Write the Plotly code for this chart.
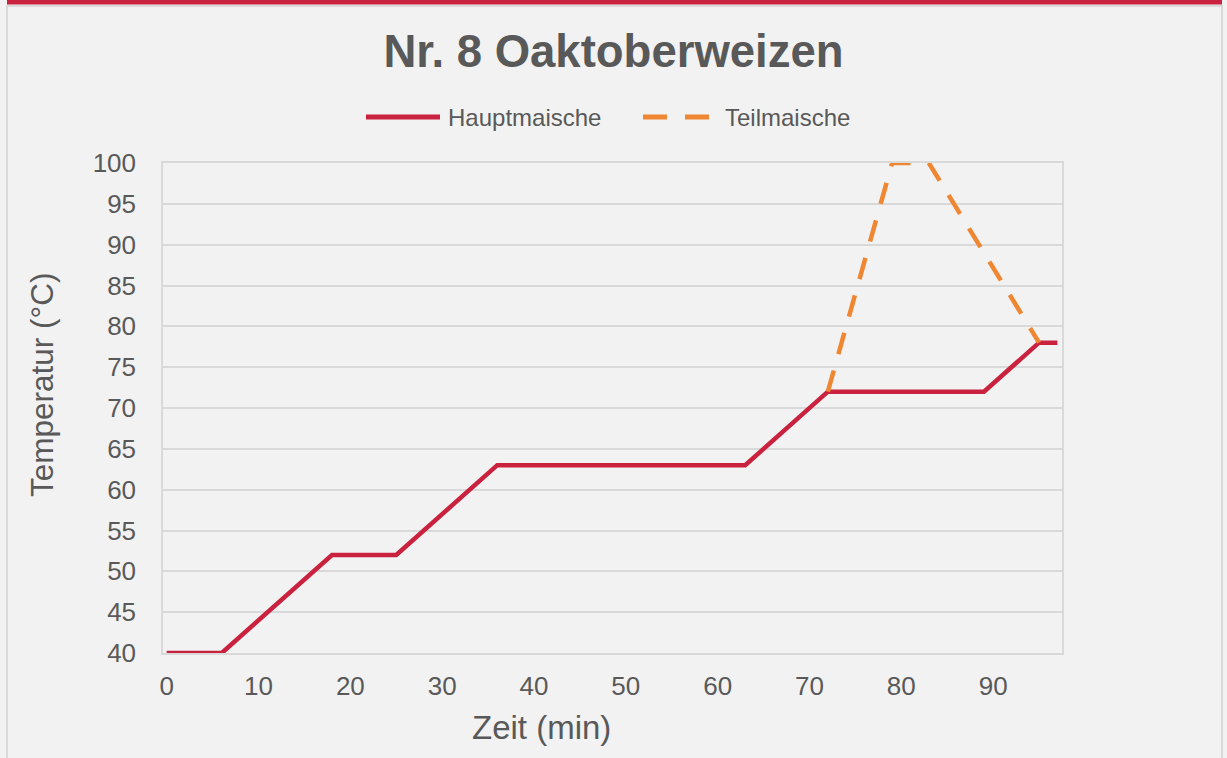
import plotly.graph_objects as go

# ---- data ----
haupt_x = [0, 6, 18, 25, 36, 63, 72, 89, 95, 97]
haupt_y = [40, 40, 52, 52, 63, 63, 72, 72, 78, 78]
teil_x = [72, 79, 83, 95]
teil_y = [72, 100, 100, 78]
x_ticks = [0, 10, 20, 30, 40, 50, 60, 70, 80, 90]
y_ticks = [40, 45, 50, 55, 60, 65, 70, 75, 80, 85, 90, 95, 100]
title = "Nr. 8 Oaktoberweizen"
names = ["Hauptmaische", "Teilmaische"]
x_title = "Zeit (min)"
y_title = "Temperatur (°C)"

RED = "#c9213e"
ORANGE = "#ef8632"
GRAY = "#595959"
GRID = "#d9d9d9"
BG = "#f2f2f2"
FONT = "Liberation Sans, Arial, sans-serif"

W, H = 1227, 758
L, R, T, B = 163, 1062, 163, 653  # plot area pixel bounds


def px(xp):
    return (xp - L) / (R - L)


def py(yp):
    return (B - yp) / (B - T)


fig = go.Figure()
fig.add_trace(go.Scatter(x=haupt_x, y=haupt_y, mode="lines", name=names[0],
                         line=dict(color=RED, width=4.5), showlegend=False))
fig.add_trace(go.Scatter(x=teil_x, y=teil_y, mode="lines", name=names[1],
                         line=dict(color=ORANGE, width=4.5, dash="22px,17px"),
                         showlegend=False))

shapes = [
    # outer frame
    dict(type="rect", xref="paper", yref="paper", x0=px(7), x1=px(1222), y0=py(6), y1=py(762),
         line=dict(color=GRID, width=2), fillcolor="rgba(0,0,0,0)", layer="below"),
    # top red bar
    dict(type="rect", xref="paper", yref="paper", x0=px(7), x1=px(1222), y0=py(-2), y1=py(4.5),
         line=dict(width=0), fillcolor=RED),
    # legend samples
    dict(type="line", xref="paper", yref="paper", x0=px(366), x1=px(440), y0=py(117), y1=py(117),
         line=dict(color=RED, width=5)),
    dict(type="line", xref="paper", yref="paper", x0=px(643), x1=px(709), y0=py(117), y1=py(117),
         line=dict(color=ORANGE, width=5, dash="24px,18px")),
]

annotations = [
    dict(text=names[0], xref="paper", yref="paper", x=px(446), y=py(117), xanchor="left",
         yanchor="middle", showarrow=False, font=dict(size=24, color=GRAY, family=FONT)),
    dict(text=names[1], xref="paper", yref="paper", x=px(723), y=py(117), xanchor="left",
         yanchor="middle", showarrow=False, font=dict(size=24, color=GRAY, family=FONT)),
    # axis titles
    dict(text=x_title, xref="paper", yref="paper", x=px(541), y=py(727), xanchor="center",
         yanchor="middle", showarrow=False, font=dict(size=33, color=GRAY, family=FONT)),
    dict(text=y_title, xref="paper", yref="paper", x=px(42), y=py(385), xanchor="center",
         yanchor="middle", textangle=-90, showarrow=False,
         font=dict(size=31.5, color=GRAY, family=FONT)),
]

fig.update_layout(
    width=W, height=H,
    margin=dict(l=L, r=W - R, t=T, b=H - B, pad=0),
    paper_bgcolor=BG, plot_bgcolor=BG,
    font=dict(family=FONT, color=GRAY),
    title=dict(text=title, x=0.5, xanchor="center", y=1 - 51 / H, yanchor="middle",
               font=dict(size=45.5, color=GRAY, family=FONT, weight="bold")),
    showlegend=False,
    shapes=shapes,
    annotations=annotations,
    xaxis=dict(range=[-0.4, 97.5], tickvals=x_ticks, ticktext=[str(v) for v in x_ticks],
               showgrid=False, zeroline=False, showline=True, linecolor=GRID, linewidth=1.5,
               mirror=True, ticks="", ticklabelstandoff=9,
               tickfont=dict(size=26, color=GRAY)),
    yaxis=dict(range=[40, 100], tickvals=y_ticks, ticktext=[str(v) for v in y_ticks],
               showgrid=True, gridcolor=GRID, gridwidth=1.5, zeroline=False,
               showline=True, linecolor=GRID, linewidth=1.5, mirror=True, ticks="",
               ticklabelstandoff=20,
               tickfont=dict(size=26, color=GRAY)),
)

fig.write_html("out.html", config={"displayModeBar": False},
               post_script="document.body.style.margin='0px';document.body.style.overflow='hidden';")
